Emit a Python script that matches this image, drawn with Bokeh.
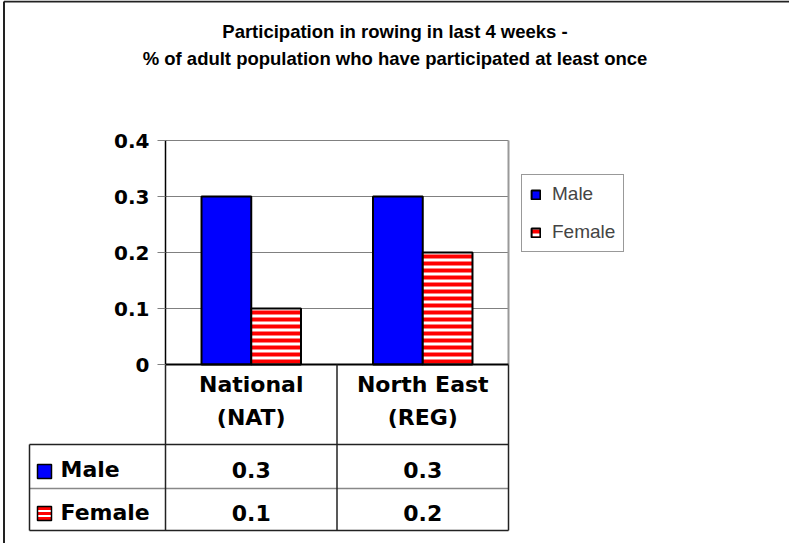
from bokeh.plotting import figure
from bokeh.models import Range1d, FixedTicker
from bokeh.core.properties import value
from bokeh.embed import file_html
from bokeh.resources import INLINE

# ---------------- data ----------------
TITLE_LINES = ["Participation in rowing in last 4 weeks -",
               "% of adult population who have participated at least once"]
CATEGORIES = ["National\n(NAT)", "North East\n(REG)"]
SERIES = ["Male", "Female"]
MALE = [0.3, 0.3]
FEMALE = [0.1, 0.2]
Y_TICKS = [0, 0.1, 0.2, 0.3, 0.4]
Y_TICK_LABELS = ["0", "0.1", "0.2", "0.3", "0.4"]

# ---------------- layout (page pixels) ----------------
W, H = 789, 543
PX0, PY0 = 8, 8
AX_LEFT, AX_RIGHT = 173, 516
Y_ZERO, Y_TOP = 372, 148
N = len(CATEGORIES)
YMAX = Y_TICKS[-1]
TXT_SHIFT = 8  # text glyph anchor correction (pixels)


def dx(px):
    return (px - AX_LEFT) * N / (AX_RIGHT - AX_LEFT)


def dy(py):
    return (Y_ZERO - py) * YMAX / (Y_ZERO - Y_TOP)


def ty(py):
    return dy(py - TXT_SHIFT)


p = figure(width=W, height=H,
           x_range=Range1d(dx(PX0), dx(PX0 + W)),
           y_range=Range1d(dy(PY0 + H), dy(PY0)),
           x_axis_location=None,
           output_backend="svg", toolbar_location=None,
           min_border=0, outline_line_color=None)
p.grid.visible = False
p.background_fill_color = "white"
p.border_fill_color = "white"

BOLD = value("DejaVu Sans")

# outer chart frame (left and top edges visible)
p.segment(x0=[dx(11.5), dx(11.5)], y0=[dy(9), dy(9)],
          x1=[dx(11.5), dx(PX0 + W + 5)], y1=[dy(PY0 + H + 5), dy(9)],
          line_color="#222222", line_width=2)

# gridlines
grid_y = [t for t in Y_TICKS if t > 0]
p.segment(x0=[0] * len(grid_y), y0=grid_y, x1=[N] * len(grid_y), y1=grid_y,
          line_color="#808080", line_width=1)
# right border of plot area
p.segment(x0=[N], y0=[0], x1=[N], y1=[YMAX], line_color="#999999", line_width=2)

# bars
BW = 0.29
male_x = [i + 0.5 - BW / 2 for i in range(N)]
female_x = [i + 0.5 + BW / 2 for i in range(N)]
p.vbar(x=male_x, top=MALE, bottom=0, width=BW, fill_color="#0000FF",
       line_color="black", line_width=2, legend_label=SERIES[0])
p.vbar(x=female_x, top=FEMALE, bottom=0, width=BW, fill_color="white",
       hatch_pattern="horizontal_line", hatch_color="#FF0000", hatch_scale=7,
       hatch_weight=4, line_color="black", line_width=2, legend_label=SERIES[1])

# baseline
p.segment(x0=[0], y0=[0], x1=[N], y1=[0], line_color="black", line_width=2)

# y axis at x = 0
ax = p.yaxis[0]
ax.fixed_location = 0
ax.bounds = (0, YMAX)
ax.ticker = FixedTicker(ticks=Y_TICKS, minor_ticks=[])
ax.major_label_overrides = dict(zip(Y_TICKS, Y_TICK_LABELS))
ax.major_tick_out = 8
ax.major_tick_in = 0
ax.minor_tick_out = 0
ax.minor_tick_in = 0
ax.major_tick_line_color = "#808080"
ax.axis_line_color = "black"
ax.axis_line_width = 1.5
ax.major_label_standoff = 8
ax.major_label_text_font = "DejaVu Sans"
ax.major_label_text_font_style = "bold"
ax.major_label_text_font_size = "20px"
ax.major_label_text_color = "black"

# ---------------- data table ----------------
TB_LEFT = 37
ROW_TOPS = [452, 496]
TB_BOTTOM = 538
hy = [ROW_TOPS[0], ROW_TOPS[1], TB_BOTTOM]
hcol = ["#222222", "#888888", "#222222"]
p.segment(x0=[dx(TB_LEFT)] * 3, y0=[dy(v) for v in hy], x1=[N] * 3,
          y1=[dy(v) for v in hy], line_color=hcol, line_width=1.5)
p.segment(x0=list(range(N + 1)) + [dx(TB_LEFT)],
          y0=[0] * (N + 1) + [dy(ROW_TOPS[0])],
          x1=list(range(N + 1)) + [dx(TB_LEFT)],
          y1=[dy(TB_BOTTOM)] * (N + 2),
          line_color="#222222", line_width=1.5)

# category labels in header row
HEAD_BASE = [400, 433]
tx, tyl, tt = [], [], []
for i, cat in enumerate(CATEGORIES):
    for j, line in enumerate(cat.split("\n")):
        tx.append(i + 0.5)
        tyl.append(ty(HEAD_BASE[j]))
        tt.append(line)
p.text(x=tx, y=tyl, text=tt, text_align="center", text_baseline="alphabetic",
       text_font=BOLD, text_font_style="bold", text_font_size="22px",
       text_color="black")

# row labels and values
ROW_BASE = [485, 528]
ROW_MID = [479, 521]
p.text(x=[dx(68)] * 2, y=[ty(b) for b in ROW_BASE], text=SERIES,
       text_align="left", text_baseline="alphabetic", text_font=BOLD,
       text_font_style="bold", text_font_size="22px", text_color="black")
p.rect(x=[dx(52)], y=[dy(ROW_MID[0])], width=14, height=14,
       width_units="screen", height_units="screen",
       fill_color="#0000FF", line_color="black", line_width=1.5)
p.rect(x=[dx(52)], y=[dy(ROW_MID[1])], width=14, height=14,
       width_units="screen", height_units="screen",
       fill_color="white", hatch_pattern="horizontal_line", hatch_color="#FF0000",
       hatch_scale=5, hatch_weight=3, line_color="black", line_width=1.5)
for vals, b in zip([MALE, FEMALE], ROW_BASE):
    p.text(x=[i + 0.5 for i in range(N)], y=[ty(b)] * N,
           text=[f"{v:g}" for v in vals], text_align="center",
           text_baseline="alphabetic", text_font=BOLD, text_font_style="bold",
           text_font_size="22px", text_color="black")

# ---------------- title ----------------
TITLE_BASE = [47, 74]
p.text(x=[dx(PX0 + W / 2)] * 2, y=[ty(b) for b in TITLE_BASE], text=TITLE_LINES,
       text_align="center", text_baseline="alphabetic",
       text_font=value("Liberation Sans"), text_font_style="bold",
       text_font_size="18.5px", text_color="black")

# ---------------- legend ----------------
leg = p.legend[0]
leg.location = (529 - PX0, PY0 + H - 260)
leg.margin = 0
leg.padding = 8
leg.spacing = 16
leg.label_height = 20
leg.glyph_width = 11
leg.glyph_height = 11
leg.label_standoff = 11
leg.label_text_font = "Liberation Sans"
leg.label_text_font_size = "19px"
leg.border_line_color = "#333333"
leg.border_line_width = 1
leg.background_fill_alpha = 1.0

open("out.html", "w").write(file_html(p, INLINE))
